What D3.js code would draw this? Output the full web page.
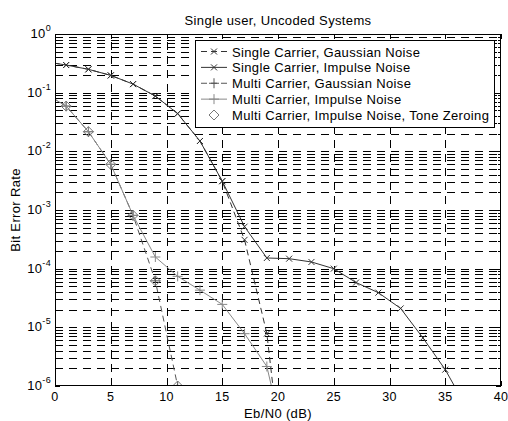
<!DOCTYPE html>
<html>
<head>
<meta charset="utf-8">
<script src="https://cdn.jsdelivr.net/npm/d3@7"></script>
<style>
  body { margin: 0; background: #fff; }
  text { font-family: "Liberation Sans", Arial, sans-serif; fill: #000; letter-spacing: 0.35px; }
</style>
</head>
<body>
<svg id="chart" width="508" height="421"></svg>
<script>
'use strict';

// Eb/N0 points (dB)
var ebn0 = [-1, 1, 3, 5, 7, 9, 11, 13, 15, 17, 19, 21, 23, 25, 27, 29, 31, 33, 35, 37];

var scGauss = [0.34, 0.296, 0.25, 0.197, 0.14, 0.0875, 0.044, 0.015, 0.0031, 3.1e-4, 7.8e-6, 4e-9];
var scImpulse = [0.34, 0.296, 0.25, 0.197, 0.14, 0.0875, 0.044, 0.015, 0.0031, 5.2e-4, 1.52e-4,
  1.48e-4, 1.3e-4, 1.0e-4, 5.8e-5, 3.9e-5, 2.1e-5, 6.6e-6, 1.9e-6, 4e-7];
var mcGauss = [0.1, 0.059, 0.0216, 0.006, 8.1e-4, 6.2e-5, 1.0e-6];
var mcImpulse = [0.1, 0.059, 0.0216, 0.006, 8.1e-4, 1.58e-4, 7.4e-5, 4.3e-5, 2.46e-5, 7.8e-6, 2.15e-6, 5e-8];
var toneX = [1, 3, 5, 7, 9, 11];
var toneZero = [0.059, 0.0216, 0.006, 8.1e-4, 6.2e-5, 1.0e-6];

var xTicks = [0, 5, 10, 15, 20, 25, 30, 35, 40];
var yExp = [0, -1, -2, -3, -4, -5, -6];

var legendNames = [
  'Single Carrier, Gaussian Noise',
  'Single Carrier, Impulse Noise',
  'Multi Carrier, Gaussian Noise',
  'Multi Carrier, Impulse Noise',
  'Multi Carrier, Impulse Noise, Tone Zeroing'
];

var plotL = 55, plotR = 501, plotT = 34, plotB = 386;

var svg = d3.select('#chart');

var x = d3.scaleLinear().domain([0, 40]).range([plotL, plotR]);
var y = d3.scaleLog().domain([1e-6, 1]).range([plotB, plotT]);

// all log positions, majors and minors
var logVals = [];
for (var e = -6; e < 0; e++) {
  for (var m = 1; m < 10; m++) logVals.push(m * Math.pow(10, e));
}
logVals.push(1);

svg.append('rect')
  .attr('x', plotL).attr('y', plotT)
  .attr('width', plotR - plotL).attr('height', plotB - plotT)
  .attr('fill', '#fff');

// grid
var grid = svg.append('g')
  .attr('stroke', '#000')
  .attr('stroke-width', 1)
  .attr('stroke-dasharray', '8,6')
  .attr('shape-rendering', 'crispEdges');

grid.selectAll('.hg')
  .data(logVals.filter(function(v) { return v > 1e-6 && v < 1; }))
  .enter().append('line')
  .attr('x1', plotL).attr('x2', plotR)
  .attr('y1', function(d) { return Math.round(y(d)) + 0.5; })
  .attr('y2', function(d) { return Math.round(y(d)) + 0.5; });

grid.selectAll('.vg')
  .data(xTicks.slice(1, -1))
  .enter().append('line')
  .attr('y1', plotB).attr('y2', plotT)
  .attr('x1', function(d) { return Math.round(x(d)) + 0.5; })
  .attr('x2', function(d) { return Math.round(x(d)) + 0.5; });

// curves
svg.append('clipPath').attr('id', 'clip')
  .append('rect').attr('x', plotL).attr('y', plotT)
  .attr('width', plotR - plotL).attr('height', plotB - plotT);
var plot = svg.append('g').attr('clip-path', 'url(#clip)');

function pts(xs, ys) {
  return ys.map(function(v, i) { return [xs[i], v]; });
}

var line = d3.line()
  .x(function(d) { return x(d[0]); })
  .y(function(d) { return y(d[1]); });

function markPath(type, cx, cy) {
  if (type === 'x') {
    return 'M' + (cx - 3) + ',' + (cy - 3) + 'L' + (cx + 3) + ',' + (cy + 3) +
      'M' + (cx - 3) + ',' + (cy + 3) + 'L' + (cx + 3) + ',' + (cy - 3);
  }
  if (type === '+') {
    return 'M' + (cx - 5) + ',' + cy + 'L' + (cx + 5) + ',' + cy +
      'M' + cx + ',' + (cy - 5) + 'L' + cx + ',' + (cy + 5);
  }
  return 'M' + cx + ',' + (cy - 5) + 'L' + (cx + 5) + ',' + cy +
    'L' + cx + ',' + (cy + 5) + 'L' + (cx - 5) + ',' + cy + 'Z';
}

var styles = [
  { color: '#333', dash: '6,4', mark: 'x', line: true },
  { color: '#333', dash: null, mark: 'x', line: true },
  { color: '#555', dash: '6,4', mark: '+', line: true },
  { color: '#888', dash: null, mark: '+', line: true },
  { color: '#777', dash: null, mark: 'd', line: false }
];

var series = [
  pts(ebn0, scGauss),
  pts(ebn0, scImpulse),
  pts(ebn0, mcGauss),
  pts(ebn0, mcImpulse),
  pts(toneX, toneZero)
];

series.forEach(function(s, i) {
  var st = styles[i];
  if (st.line) {
    plot.append('path')
      .attr('d', line(s))
      .attr('fill', 'none')
      .attr('stroke', st.color)
      .attr('stroke-width', 1)
      .attr('stroke-dasharray', st.dash);
  }
  plot.selectAll(null).data(s.filter(function(d) { return d[0] >= 0; }))
    .enter().append('path')
    .attr('d', function(d) { return markPath(st.mark, x(d[0]), y(d[1])); })
    .attr('stroke', st.color).attr('fill', 'none');
});

// frame and ticks
svg.append('rect')
  .attr('x', plotL + 0.5).attr('y', plotT + 0.5)
  .attr('width', plotR - plotL - 1).attr('height', plotB - plotT - 1)
  .attr('fill', 'none').attr('stroke', '#000')
  .attr('shape-rendering', 'crispEdges');

var ticks = svg.append('g').attr('stroke', '#000').attr('shape-rendering', 'crispEdges');
xTicks.forEach(function(t) {
  var px = Math.round(x(t)) + 0.5;
  ticks.append('line').attr('x1', px).attr('x2', px).attr('y1', plotB).attr('y2', plotB - 5);
  ticks.append('line').attr('x1', px).attr('x2', px).attr('y1', plotT).attr('y2', plotT + 5);
});
logVals.forEach(function(v) {
  var py = Math.round(y(v)) + 0.5;
  var major = Math.abs(Math.log10(v) - Math.round(Math.log10(v))) < 1e-9;
  var len = major ? 5 : 3;
  ticks.append('line').attr('x1', plotL).attr('x2', plotL + len).attr('y1', py).attr('y2', py);
  ticks.append('line').attr('x1', plotR).attr('x2', plotR - len).attr('y1', py).attr('y2', py);
});

// tick labels
svg.selectAll('.xl').data(xTicks).enter().append('text')
  .attr('x', function(d) { return x(d); })
  .attr('y', 401)
  .attr('text-anchor', 'middle')
  .attr('font-size', 12.5)
  .text(function(d) { return d; });

var yl = svg.selectAll('.yl').data(yExp).enter().append('text')
  .attr('x', 51)
  .attr('y', function(d) { return y(Math.pow(10, d)) + 4; })
  .attr('text-anchor', 'end')
  .attr('font-size', 13);
yl.append('tspan').text('10');
yl.append('tspan').attr('dy', -7).attr('font-size', 9).text(function(d) { return d; });

// titles
svg.append('text').attr('x', (plotL + plotR) / 2).attr('y', 25)
  .attr('text-anchor', 'middle').attr('font-size', 13)
  .text('Single user, Uncoded Systems');
svg.append('text').attr('x', (plotL + plotR) / 2).attr('y', 418)
  .attr('text-anchor', 'middle').attr('font-size', 13)
  .text('Eb/N0 (dB)');
svg.append('text')
  .attr('transform', 'translate(20,' + ((plotT + plotB) / 2) + ') rotate(-90)')
  .attr('text-anchor', 'middle').attr('font-size', 13)
  .text('Bit Error Rate');

// legend
var lg = svg.append('g');
lg.append('rect')
  .attr('x', 195.5).attr('y', 40.5).attr('width', 299).attr('height', 87)
  .attr('fill', '#fff').attr('stroke', '#000')
  .attr('shape-rendering', 'crispEdges');

var legendY = d3.scalePoint().domain(legendNames).range([51.5, 115]);
legendNames.forEach(function(name, i) {
  var cy = legendY(name), st = styles[i];
  if (st.line) {
    lg.append('line').attr('x1', 201).attr('x2', 227).attr('y1', cy).attr('y2', cy)
      .attr('stroke', st.color).attr('stroke-dasharray', st.dash);
  }
  lg.append('path').attr('d', markPath(st.mark, 214, cy))
    .attr('stroke', st.color).attr('fill', 'none');
  lg.append('text').attr('x', 232).attr('y', cy + 5).attr('font-size', 13).text(name);
});
</script>
</body>
</html>
